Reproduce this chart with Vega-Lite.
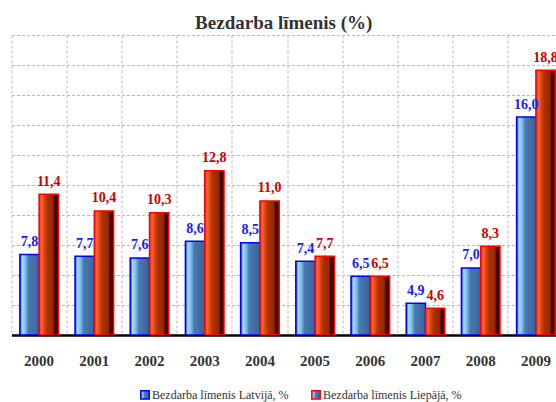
{
  "$schema": "https://vega.github.io/schema/vega-lite/v6.json",
  "width": 544.5,
  "height": 300,
  "autosize": {"type": "none"},
  "padding": {"left": 11.5, "top": 35, "right": 0, "bottom": 67},
  "background": "white",
  "title": {"text": "Bezdarba līmenis (%)", "font": "Liberation Serif, Times New Roman, serif", "fontSize": 19, "fontWeight": "bold", "color": "#333333", "anchor": "middle", "baseline": "alphabetic", "offset": -13},
  "data": {"values": [
    {"year": "2000", "series": "Bezdarba līmenis Latvijā, %", "value": 7.8},
    {"year": "2000", "series": "Bezdarba līmenis Liepājā, %", "value": 11.4},
    {"year": "2001", "series": "Bezdarba līmenis Latvijā, %", "value": 7.7},
    {"year": "2001", "series": "Bezdarba līmenis Liepājā, %", "value": 10.4},
    {"year": "2002", "series": "Bezdarba līmenis Latvijā, %", "value": 7.6},
    {"year": "2002", "series": "Bezdarba līmenis Liepājā, %", "value": 10.3},
    {"year": "2003", "series": "Bezdarba līmenis Latvijā, %", "value": 8.6},
    {"year": "2003", "series": "Bezdarba līmenis Liepājā, %", "value": 12.8},
    {"year": "2004", "series": "Bezdarba līmenis Latvijā, %", "value": 8.5},
    {"year": "2004", "series": "Bezdarba līmenis Liepājā, %", "value": 11.0},
    {"year": "2005", "series": "Bezdarba līmenis Latvijā, %", "value": 7.4},
    {"year": "2005", "series": "Bezdarba līmenis Liepājā, %", "value": 7.7},
    {"year": "2006", "series": "Bezdarba līmenis Latvijā, %", "value": 6.5},
    {"year": "2006", "series": "Bezdarba līmenis Liepājā, %", "value": 6.5},
    {"year": "2007", "series": "Bezdarba līmenis Latvijā, %", "value": 4.9},
    {"year": "2007", "series": "Bezdarba līmenis Liepājā, %", "value": 4.6},
    {"year": "2008", "series": "Bezdarba līmenis Latvijā, %", "value": 7.0},
    {"year": "2008", "series": "Bezdarba līmenis Liepājā, %", "value": 8.3},
    {"year": "2009", "series": "Bezdarba līmenis Latvijā, %", "value": 16.0},
    {"year": "2009", "series": "Bezdarba līmenis Liepājā, %", "value": 18.8}
  ]},
  "encoding": {
    "x": {
      "field": "year", "type": "nominal",
      "scale": {"range": [0, 552], "paddingInner": 0, "paddingOuter": 0},
      "axis": {"title": null, "labelAngle": 0, "bandPosition": 0, "ticks": false, "labelPadding": 18,
               "labelFont": "Liberation Serif, Times New Roman, serif", "labelFontSize": 15, "labelFontWeight": "bold", "labelColor": "#333333",
               "grid": true, "gridDash": [3, 2], "gridColor": "#bbbbbb", "domainColor": "#000000", "domainWidth": 2.5}
    },
    "xOffset": {"field": "series", "type": "nominal", "scale": {"paddingInner": 0, "paddingOuter": 0.43}},
    "y": {
      "field": "value", "type": "quantitative",
      "scale": {"domain": [3, 20.9], "zero": false, "clamp": true, "nice": false},
      "axis": {"title": null, "labels": false, "ticks": false, "domain": false, "grid": true, "gridDash": [3, 2], "gridColor": "#bbbbbb",
               "values": [3, 4.79, 6.58, 8.37, 10.16, 11.95, 13.74, 15.53, 17.32, 19.11, 20.9]}
    },
    "stroke": {
      "field": "series", "type": "nominal",
      "scale": {"range": ["#0000ff", "#ff0000"]},
      "legend": {"orient": "none", "legendX": 127.5, "legendY": 353.5, "direction": "horizontal", "title": null,
                 "symbolType": "square", "symbolSize": 70, "labelFont": "Liberation Serif, Times New Roman, serif", "labelFontSize": 12,
                 "labelColor": "#333333", "labelOffset": 1, "columnPadding": 19, "padding": 0, "symbolStrokeWidth": 1.5,
                 "encode": {"symbols": {"update": {"fill": {"signal": "datum.value === 'Bezdarba līmenis Latvijā, %' ? '#3050d0' : '#c02800'"}, "fillOpacity": {"value": 1}}}}}
    }
  },
  "layer": [
    {
      "transform": [{"filter": "datum.series === 'Bezdarba līmenis Latvijā, %'"}],
      "mark": {"type": "bar", "clip": true, "strokeWidth": 1.5,
        "fill": {"gradient": "linear", "x1": 0, "x2": 1, "y1": 0, "y2": 0, "stops": [
          {"offset": 0, "color": "#1030ff"}, {"offset": 0.12, "color": "#a0e4ff"}, {"offset": 0.3, "color": "#78b8e8"},
          {"offset": 0.45, "color": "#4a78b0"}, {"offset": 1, "color": "#3a6498"}]}}
    },
    {
      "transform": [{"filter": "datum.series === 'Bezdarba līmenis Liepājā, %'"}],
      "mark": {"type": "bar", "clip": true, "strokeWidth": 1.5,
        "fill": {"gradient": "linear", "x1": 0, "x2": 1, "y1": 0, "y2": 0, "stops": [
          {"offset": 0, "color": "#ff2000"}, {"offset": 0.12, "color": "#ff6a30"}, {"offset": 0.3, "color": "#d04010"},
          {"offset": 0.45, "color": "#a83000"}, {"offset": 0.72, "color": "#982800"}, {"offset": 0.8, "color": "#4a0800"},
          {"offset": 1, "color": "#300000"}]}}
    },
    {
      "mark": {"type": "text", "font": "Liberation Serif, Times New Roman, serif", "fontSize": 14, "fontWeight": "bold", "baseline": "alphabetic", "dy": -8.5, "strokeWidth": 0},
      "encoding": {
        "text": {"field": "value", "type": "quantitative", "format": ".1f"},
        "stroke": {"value": null},
        "fill": {"condition": {"test": "datum.series === 'Bezdarba līmenis Latvijā, %'", "value": "#1a1aff"}, "value": "#cc0000"}
      }
    }
  ],
  "config": {
    "view": {"stroke": null},
    "locale": {"number": {"decimal": ",", "thousands": " ", "grouping": [3], "currency": ["", " €"]}}
  }
}
